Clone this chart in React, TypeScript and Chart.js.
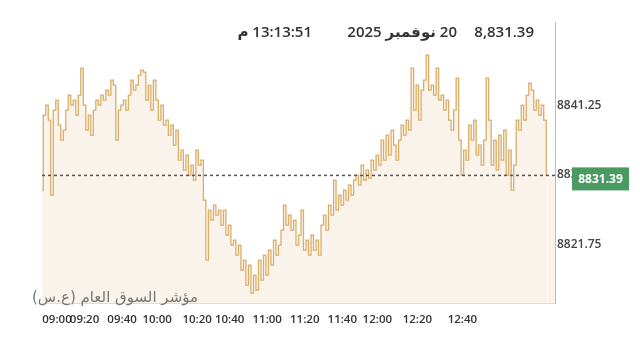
import React, { useEffect, useRef } from "react";
import { Chart, registerables } from "chart.js";

Chart.register(...registerables);

const prices = [
  8829.33, 8839.85, 8841.25, 8839.15, 8828.63, 8840.55, 8841.95, 8838.45, 8836.34, 8837.74,
  8840.55, 8842.65, 8841.25, 8841.95, 8839.85, 8842.65, 8846.44, 8841.25, 8837.74, 8839.85,
  8837.04, 8840.55, 8841.95, 8841.25, 8842.65, 8841.95, 8843.35, 8842.65, 8844.76, 8844.06,
  8836.34, 8840.55, 8841.25, 8841.95, 8840.55, 8842.65, 8844.76, 8843.35, 8844.06, 8845.46,
  8846.16, 8845.88, 8841.95, 8844.06, 8840.55, 8844.76, 8841.95, 8839.15, 8841.25, 8838.45,
  8839.15, 8837.04, 8838.45, 8835.64, 8837.74, 8833.54, 8834.94, 8832.13, 8834.24, 8831.43,
  8832.84, 8830.73, 8834.94, 8832.84, 8833.54, 8827.93, 8819.51, 8826.52, 8825.12, 8827.23,
  8825.82, 8826.52, 8824.42, 8826.52, 8823.02, 8824.42, 8821.62, 8822.32, 8820.21, 8821.62,
  8818.11, 8819.51, 8816.01, 8818.81, 8814.88, 8817.41, 8815.30, 8819.51, 8816.71, 8820.21,
  8817.41, 8820.91, 8818.81, 8822.32, 8820.21, 8821.62, 8823.72, 8827.23, 8824.42, 8825.82,
  8823.72, 8825.12, 8821.62, 8823.02, 8826.52, 8820.91, 8822.32, 8820.21, 8823.02, 8820.91,
  8822.32, 8820.21, 8824.42, 8825.82, 8823.72, 8827.23, 8825.82, 8830.73, 8826.52, 8828.63,
  8827.23, 8829.33, 8827.93, 8830.03, 8828.63, 8830.73, 8831.43, 8830.03, 8832.84, 8830.73,
  8832.13, 8831.01, 8833.54, 8832.13, 8834.24, 8832.84, 8836.34, 8833.54, 8837.04, 8834.24,
  8837.74, 8835.64, 8833.54, 8836.34, 8838.45, 8837.04, 8839.15, 8837.74, 8846.44, 8840.55,
  8844.06, 8839.15, 8843.35, 8844.76, 8848.26, 8843.35, 8844.06, 8842.65, 8846.44, 8841.95,
  8842.65, 8840.55, 8841.95, 8839.15, 8837.74, 8840.55, 8845.04, 8836.34, 8831.43, 8834.94,
  8833.54, 8838.45, 8836.34, 8839.15, 8834.24, 8835.64, 8832.84, 8836.34, 8845.04, 8839.15,
  8832.84, 8836.34, 8832.13, 8837.04, 8833.54, 8837.74, 8831.43, 8834.94, 8829.33, 8832.84,
  8839.15, 8837.74, 8841.25, 8839.15, 8842.65, 8844.34, 8843.35, 8840.55, 8841.95, 8839.85,
  8841.25, 8839.15, 8831.39,
];

const tickIdx = [6, 17, 32, 46, 62, 75, 90, 105, 120, 134, 150, 168];
const tickLabels = ["09:00", "09:20", "09:40", "10:00", "10:20", "10:40", "11:00", "11:20", "11:40", "12:00", "12:20", "12:40"];
const yTicks = [8821.75, 8831.5, 8841.25];
const lastPrice = 8831.39;
const headerPrice = "8,831.39";
const headerDate = "20 نوفمبر 2025";
const headerTime = "13:13:51 م";
const indexName = "مؤشر السوق العام (ع.س)";

const X_MAX = 205;
const LINE_COLOR = "rgba(214,165,88,0.9)";

export default function App() {
  const ref = useRef<HTMLCanvasElement | null>(null);

  useEffect(() => {
    if (!ref.current) return;
    const points = prices.map((v, i) => ({ x: i, y: v }));
    points.push({ x: X_MAX, y: lastPrice });
    const lastSeg = points.length - 1;

    const overlay = {
      id: "overlay",
      afterDatasetsDraw(chart: any) {
        const { ctx, chartArea, scales } = chart;
        const y = scales.y.getPixelForValue(lastPrice);
        ctx.save();
        ctx.strokeStyle = "#555";
        ctx.lineWidth = 1.5;
        ctx.setLineDash([3, 3]);
        ctx.beginPath();
        ctx.moveTo(chartArea.left, y);
        ctx.lineTo(chartArea.right, y);
        ctx.stroke();
        ctx.restore();
      },
      afterDraw(chart: any) {
        const { ctx, chartArea, scales } = chart;
        const y = scales.y.getPixelForValue(lastPrice);
        ctx.save();
        ctx.fillStyle = "#4a9a62";
        const bx = chartArea.right + 17;
        const by = y - 8;
        ctx.fillRect(bx, by, 57, 23);
        ctx.fillStyle = "#ffffff";
        ctx.font = "bold 12px 'Open Sans'";
        ctx.textAlign = "center";
        ctx.textBaseline = "middle";
        ctx.fillText(lastPrice.toFixed(2), bx + 28.5, by + 12);
        ctx.restore();

        ctx.save();
        ctx.direction = "rtl";
        ctx.fillStyle = "#777";
        ctx.font = "15px 'DejaVu Sans'";
        ctx.textAlign = "right";
        ctx.textBaseline = "middle";
        ctx.fillText(indexName, 198, 298);
        ctx.restore();
      },
    };

    const chart = new Chart(ref.current, {
      type: "line",
      data: {
        datasets: [
          {
            data: points,
            borderColor: LINE_COLOR,
            borderWidth: 1.3,
            backgroundColor: "#faf3ec",
            fill: "start",
            pointRadius: 0,
            tension: 0,
            stepped: "middle",
            segment: {
              borderColor: (c: any) => (c.p1DataIndex === lastSeg ? "rgba(0,0,0,0)" : LINE_COLOR),
            },
          },
        ],
      },
      options: {
        animation: false,
        responsive: false,
        parsing: false,
        layout: { padding: { left: 42, top: 22, right: 0, bottom: 0 } },
        plugins: { legend: { display: false }, tooltip: { enabled: false } },
        scales: {
          x: {
            type: "linear",
            min: 0,
            max: X_MAX,
            grid: { display: false, drawTicks: false },
            border: { display: true, color: "#ddd" },
            afterBuildTicks: (s: any) => {
              s.ticks = tickIdx.map((v) => ({ value: v }));
            },
            afterFit: (s: any) => {
              s.height = 57;
            },
            ticks: {
              autoSkip: false,
              maxRotation: 0,
              padding: 10,
              color: "#333",
              font: { family: "'Open Sans'", size: 11.5, weight: 600 },
              callback: (_v: any, i: number) => tickLabels[i],
            },
          },
          y: {
            position: "right",
            min: 8813.5,
            max: 8852.9,
            grid: { display: false, drawTicks: false },
            border: { display: true, color: "#bbb" },
            afterBuildTicks: (s: any) => {
              s.ticks = yTicks.map((v) => ({ value: v }));
            },
            afterFit: (s: any) => {
              s.width = 85;
            },
            ticks: {
              padding: 2,
              color: "#444",
              font: { family: "'Open Sans'", size: 12, weight: 600 },
              callback: (v: any) => Number(v).toFixed(2),
            },
          },
        },
      },
      plugins: [overlay],
    });
    return () => chart.destroy();
  }, []);

  const hdr: React.CSSProperties = {
    position: "absolute",
    top: 20,
    fontFamily: "'Open Sans', 'DejaVu Sans'",
    fontWeight: 600,
    fontSize: 15,
    lineHeight: "22px",
    color: "#333",
    whiteSpace: "nowrap",
  };

  return (
    <div style={{ position: "absolute", left: 0, top: 0, width: 640, height: 360, background: "#fff" }}>
      <canvas ref={ref} width={640} height={360} style={{ position: "absolute", left: 0, top: 0 }} />
      <div dir="rtl" style={{ ...hdr, right: 106 }}>{headerPrice}</div>
      <div dir="rtl" style={{ ...hdr, right: 183 }}>{headerDate}</div>
      <div dir="rtl" style={{ ...hdr, right: 328 }}>{headerTime}</div>
    </div>
  );
}
